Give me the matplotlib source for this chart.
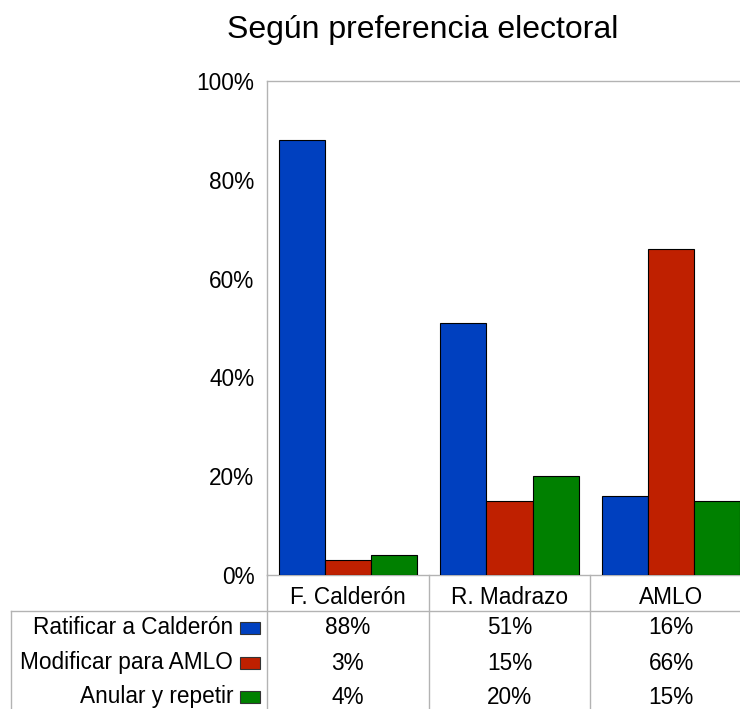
import matplotlib
matplotlib.use("Agg")
import matplotlib.pyplot as plt
import matplotlib.transforms as mtrans
from matplotlib.patches import Rectangle
import numpy as np

plt.rcParams['font.family'] = ['Liberation Sans', 'DejaVu Sans']

title = "Según preferencia electoral"
categories = ["F. Calderón", "R. Madrazo", "AMLO"]
series_names = ["Ratificar a Calderón", "Modificar para AMLO", "Anular y repetir"]
ratificar = [88, 51, 16]
modificar = [3, 15, 66]
anular = [4, 20, 15]
series_values = [ratificar, modificar, anular]
colors = ["#0040BF", "#BF2000", "#008000"]
yticks = [0, 20, 40, 60, 80, 100]
ytick_labels = ["0%", "20%", "40%", "60%", "80%", "100%"]

W, H = 740, 709
fig = plt.figure(figsize=(W / 100, H / 100), dpi=100)

def fy(px):
    return 1 - px / H

def fx(px):
    return px / W

FS = 16.3
ax_left, ax_right, ax_top, ax_bot = 267, 752, 81, 575
ax = fig.add_axes([fx(ax_left), fy(ax_bot), fx(ax_right - ax_left), (ax_bot - ax_top) / H])

x = np.arange(len(categories))
bw = 0.285
for i, (vals, c) in enumerate(zip(series_values, colors)):
    ax.bar(x + (i - 1) * bw, vals, width=bw, color=c, edgecolor="black", linewidth=0.8, zorder=3)

ax.set_xlim(-0.5, len(categories) - 0.5)
ax.set_ylim(0, 100)
ax.set_yticks(yticks)
ax.set_yticklabels(ytick_labels, fontsize=FS)
ax.tick_params(axis="y", length=0, pad=9)
ax.set_xticks([])
for s in ["left", "top", "bottom", "right"]:
    ax.spines[s].set_color("#b3b3b3")
    ax.spines[s].set_linewidth(1.0)

fig.text(fx(423), fy(30), title, ha="center", va="center", fontsize=23)

# table
bt = mtrans.blended_transform_factory(ax.transData, fig.transFigure)
gray = "#b3b3b3"
for xb in np.arange(-0.5, len(categories) - 0.5 + 0.01, 1.0):
    ax.plot([xb, xb], [fy(ax_bot), 0], transform=bt, color=gray, lw=1.0, clip_on=False)
fig.add_artist(plt.Line2D([fx(11), 1.0], [fy(611), fy(611)], color=gray, lw=1.0))
fig.add_artist(plt.Line2D([fx(11), fx(11)], [fy(611), 0], color=gray, lw=1.0))

for xi, cat in zip(x, categories):
    ax.text(xi, fy(597), cat, transform=bt, ha="center", va="center", fontsize=FS)

row_y = [628, 663, 697]
for name, vals, c, ry in zip(series_names, series_values, colors, row_y):
    fig.text(fx(233), fy(ry), name, ha="right", va="center", fontsize=FS)
    fig.add_artist(Rectangle((fx(240), fy(ry + 6)), fx(20), 12 / H, facecolor=c,
                             edgecolor="#333333", linewidth=0.8, transform=fig.transFigure))
    for xi, v in zip(x, vals):
        ax.text(xi, fy(ry), f"{v}%", transform=bt, ha="center", va="center", fontsize=FS)

fig.savefig("out.png", dpi=100)
